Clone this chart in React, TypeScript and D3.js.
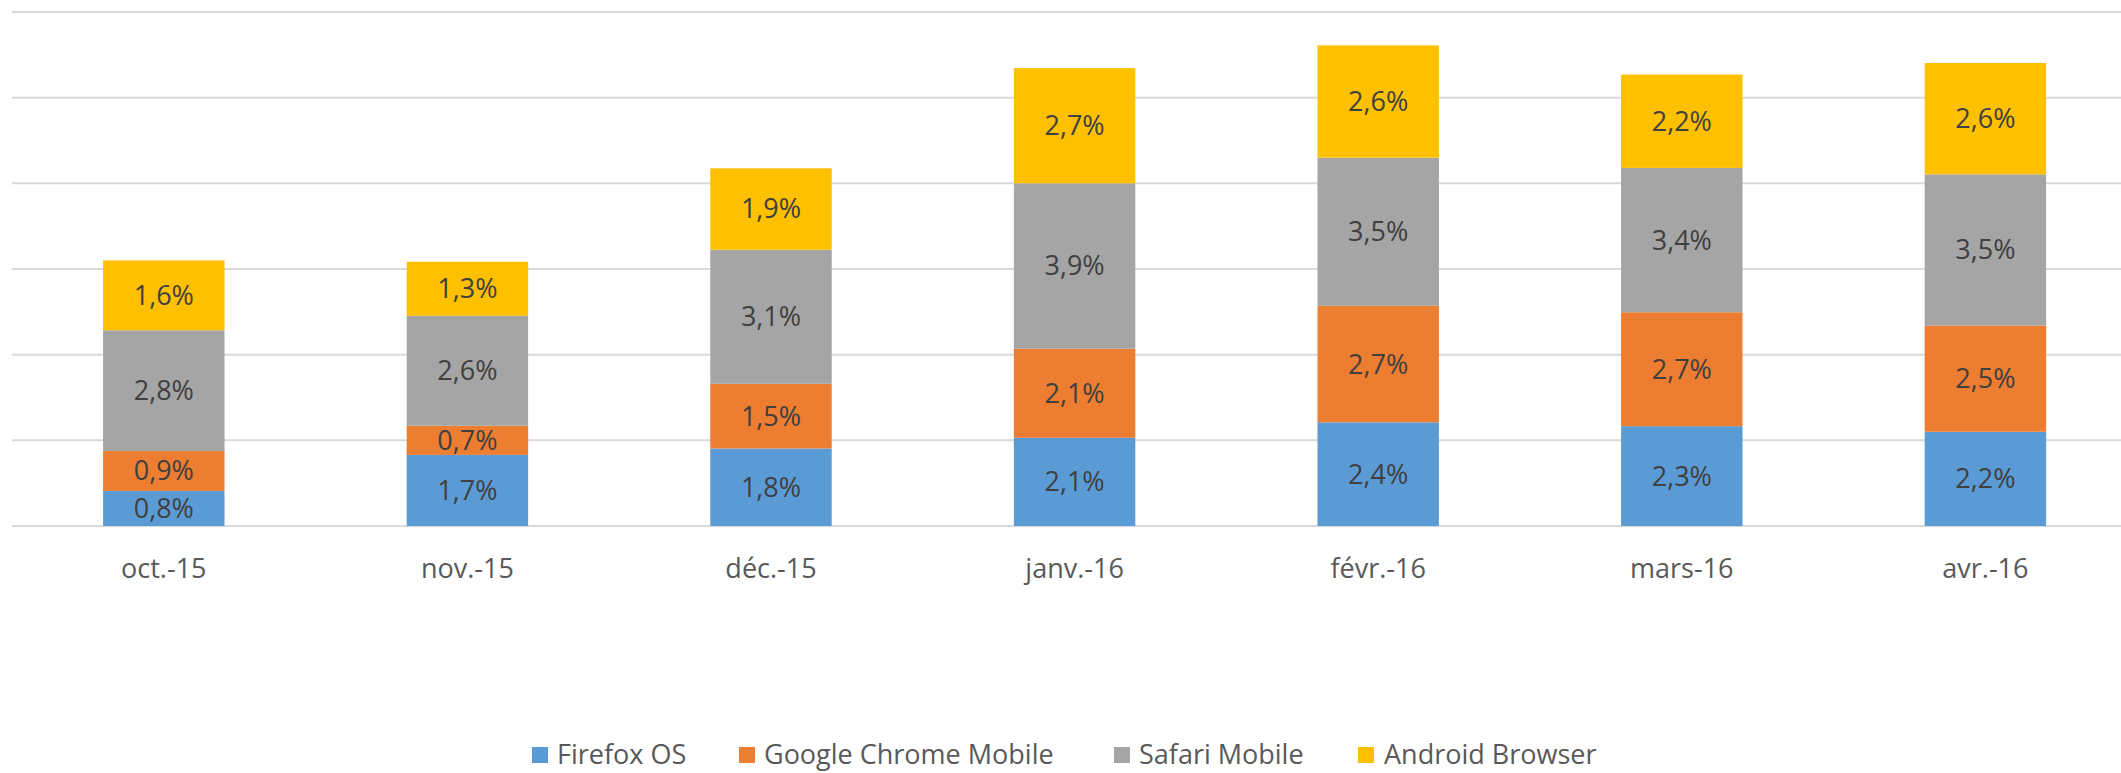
import React from "react";
import * as d3 from "d3";

const categories = ["oct.-15", "nov.-15", "déc.-15", "janv.-16", "févr.-16", "mars-16", "avr.-16"];
const seriesNames = ["Firefox OS", "Google Chrome Mobile", "Safari Mobile", "Android Browser"];
const colors = ["#5B9BD5", "#ED7D31", "#A5A5A5", "#FFC000"];
const firefoxOS = [0.82, 1.66, 1.81, 2.06, 2.42, 2.33, 2.2];
const chromeMobile = [0.93, 0.68, 1.51, 2.08, 2.72, 2.66, 2.48];
const safariMobile = [2.82, 2.57, 3.13, 3.86, 3.46, 3.37, 3.53];
const androidBrowser = [1.63, 1.26, 1.9, 2.69, 2.62, 2.18, 2.6];
const yTicks = [0, 2, 4, 6, 8, 10, 12];

const W = 2121;
const H = 773;
const FONT = "'Open Sans', 'DejaVu Sans', sans-serif";

export default function App() {
  const series = [firefoxOS, chromeMobile, safariMobile, androidBrowser];
  const rows = categories.map((c, i) => {
    const r: any = { cat: c };
    seriesNames.forEach((s, j) => (r[s] = series[j][i]));
    return r;
  });
  const stacked = d3.stack<any>().keys(seriesNames)(rows);

  const x = d3
    .scaleBand<string>()
    .domain(categories)
    .range([12, 12 + 7 * 303.6])
    .paddingInner(0.6)
    .paddingOuter(0.3);
  const y = d3.scaleLinear().domain([0, 12]).range([526, 12]);
  const fmt = (v: number) => v.toFixed(1).replace(".", ",") + "%";

  const legendItems = [
    { sq: 532, tx: 557 },
    { sq: 739, tx: 764 },
    { sq: 1114, tx: 1139 },
    { sq: 1358, tx: 1384 },
  ];

  return (
    <svg
      width={W}
      height={H}
      style={{ position: "absolute", left: 0, top: 0, background: "#fff" }}
      fontFamily={FONT}
    >
      <rect x={0} y={0} width={W} height={H} fill="#fff" />
      {yTicks.map((t) => (
        <line key={t} x1={12} x2={W} y1={y(t)} y2={y(t)} stroke="#D9D9D9" strokeWidth={2} />
      ))}
      {stacked.map((layer, j) => (
        <g key={layer.key}>
          {layer.map((d, i) => (
            <rect
              key={i}
              x={x(categories[i])}
              width={x.bandwidth()}
              y={y(d[1])}
              height={y(d[0]) - y(d[1])}
              fill={colors[j]}
            />
          ))}
        </g>
      ))}
      {stacked.map((layer, j) => (
        <g key={"l" + layer.key}>
          {layer.map((d, i) => (
            <text
              key={i}
              x={(x(categories[i]) as number) + x.bandwidth() / 2}
              y={(y(d[0]) + y(d[1])) / 2}
              dy="0.35em"
              textAnchor="middle"
              fontSize={27}
              fill="#404040"
            >
              {fmt(series[j][i])}
            </text>
          ))}
        </g>
      ))}
      {categories.map((c) => (
        <text
          key={c}
          x={(x(c) as number) + x.bandwidth() / 2}
          y={569}
          dy="0.35em"
          textAnchor="middle"
          fontSize={27}
          fill="#595959"
        >
          {c}
        </text>
      ))}
      {seriesNames.map((s, j) => (
        <g key={s}>
          <rect x={legendItems[j].sq} y={747} width={16} height={16} fill={colors[j]} />
          <text x={legendItems[j].tx} y={755} dy="0.35em" fontSize={27} fill="#595959">
            {s}
          </text>
        </g>
      ))}
    </svg>
  );
}
